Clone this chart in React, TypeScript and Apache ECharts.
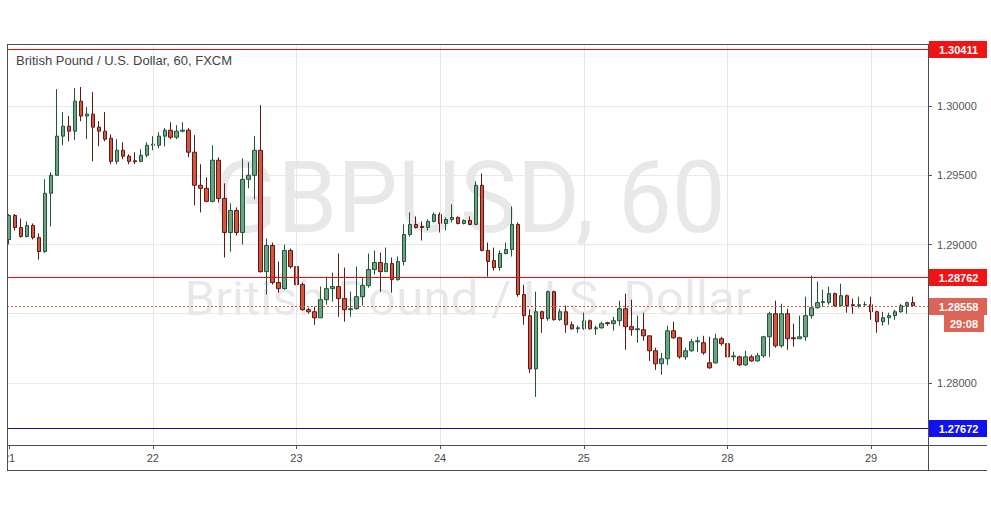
import React, { useEffect, useRef } from 'react';
import * as echarts from 'echarts';

const title = 'British Pound / U.S. Dollar, 60, FXCM';
const watermarkMain = 'GBPUSD, 60';
const watermarkSub = 'British Pound / U.S. Dollar';

const dayLabels = ['21', '22', '23', '24', '25', '28', '29'];
const dayStart = [0, 24, 48, 72, 96, 120, 144];
const extraSlots = 2;

const priceTickLabels = [1.28, 1.29, 1.295, 1.3];
const resistanceHigh = 1.30411;
const resistanceMid = 1.28762;
const supportLow = 1.27672;
const lastPrice = 1.28558;
const countdown = '29:08';

const opens = [
  1.29036, 1.29210, 1.29123, 1.29058, 1.29138, 1.29050, 1.28949, 1.29370, 1.29500, 1.29783,
  1.29855, 1.29819, 1.30036, 1.29928, 1.29942, 1.29848, 1.29819, 1.29768, 1.29601, 1.29681,
  1.29638, 1.29605, 1.29601, 1.29645, 1.29717, 1.29717, 1.29783, 1.29826, 1.29775, 1.29819,
  1.29826, 1.29667, 1.29428, 1.29406, 1.29312, 1.29609, 1.29333, 1.29087, 1.29246, 1.29087,
  1.29471, 1.29500, 1.29681, 1.28804, 1.28993, 1.28725, 1.28681, 1.28957, 1.28840, 1.28710,
  1.28529, 1.28514, 1.28470, 1.28601, 1.28681, 1.28696, 1.28609, 1.28529, 1.28536, 1.28623,
  1.28703, 1.28819, 1.28870, 1.28804, 1.28862, 1.28746, 1.28877, 1.29072, 1.29145, 1.29130,
  1.29123, 1.29167, 1.29217, 1.29152, 1.29181, 1.29196, 1.29152, 1.29174, 1.29145, 1.29428,
  1.28957, 1.28884, 1.28833, 1.28935, 1.28964, 1.29145, 1.28638, 1.28486, 1.28101, 1.28514,
  1.28464, 1.28659, 1.28457, 1.28514, 1.28420, 1.28391, 1.28391, 1.28449, 1.28391, 1.28398,
  1.28435, 1.28428, 1.28449, 1.28536, 1.28406, 1.28384, 1.28384, 1.28340, 1.28232, 1.28138,
  1.28174, 1.28377, 1.28326, 1.28188, 1.28232, 1.28297, 1.28290, 1.28145, 1.28145, 1.28319,
  1.28283, 1.28188, 1.28188, 1.28130, 1.28188, 1.28159, 1.28196, 1.28333, 1.28500, 1.28268,
  1.28500, 1.28326, 1.28319, 1.28333, 1.28486, 1.28543, 1.28580, 1.28580, 1.28645, 1.28558,
  1.28630, 1.28565, 1.28558, 1.28565, 1.28565, 1.28514, 1.28442, 1.28471, 1.28486, 1.28514,
  1.28558, 1.28580,
];

const closes = [
  1.29210, 1.29123, 1.29058, 1.29138, 1.29050, 1.28949, 1.29370, 1.29500, 1.29783, 1.29855,
  1.29819, 1.30036, 1.29928, 1.29942, 1.29848, 1.29819, 1.29761, 1.29601, 1.29681, 1.29638,
  1.29601, 1.29598, 1.29645, 1.29717, 1.29725, 1.29783, 1.29826, 1.29775, 1.29819, 1.29826,
  1.29667, 1.29428, 1.29406, 1.29312, 1.29609, 1.29333, 1.29087, 1.29246, 1.29087, 1.29471,
  1.29500, 1.29681, 1.28804, 1.28993, 1.28725, 1.28681, 1.28957, 1.28840, 1.28710, 1.28529,
  1.28514, 1.28470, 1.28601, 1.28681, 1.28696, 1.28609, 1.28529, 1.28536, 1.28623, 1.28703,
  1.28819, 1.28870, 1.28804, 1.28862, 1.28746, 1.28877, 1.29072, 1.29145, 1.29123, 1.29123,
  1.29167, 1.29217, 1.29152, 1.29181, 1.29196, 1.29152, 1.29174, 1.29145, 1.29428, 1.28957,
  1.28877, 1.28833, 1.28935, 1.28964, 1.29145, 1.28638, 1.28486, 1.28101, 1.28514, 1.28464,
  1.28659, 1.28457, 1.28514, 1.28420, 1.28391, 1.28398, 1.28449, 1.28391, 1.28398, 1.28428,
  1.28428, 1.28449, 1.28536, 1.28406, 1.28384, 1.28391, 1.28340, 1.28232, 1.28138, 1.28174,
  1.28377, 1.28326, 1.28188, 1.28232, 1.28297, 1.28304, 1.28217, 1.28109, 1.28319, 1.28283,
  1.28188, 1.28195, 1.28130, 1.28188, 1.28159, 1.28196, 1.28333, 1.28500, 1.28268, 1.28500,
  1.28319, 1.28319, 1.28333, 1.28486, 1.28543, 1.28580, 1.28587, 1.28645, 1.28558, 1.28630,
  1.28558, 1.28558, 1.28565, 1.28565, 1.28514, 1.28442, 1.28471, 1.28486, 1.28514, 1.28558,
  1.28580, 1.28558,
];

const lows = [
  1.29000, 1.29101, 1.29050, 1.29050, 1.29036, 1.28891, 1.28940, 1.29130, 1.29500, 1.29717,
  1.29746, 1.29754, 1.29891, 1.29761, 1.29601, 1.29710, 1.29746, 1.29580, 1.29580, 1.29616,
  1.29580, 1.29580, 1.29594, 1.29630, 1.29681, 1.29696, 1.29710, 1.29761, 1.29761, 1.29810,
  1.29630, 1.29283, 1.29232, 1.29304, 1.29304, 1.29304, 1.28906, 1.28949, 1.29065, 1.29000,
  1.29406, 1.29326, 1.28797, 1.28638, 1.28710, 1.28652, 1.28674, 1.28826, 1.28638, 1.28522,
  1.28500, 1.28420, 1.28470, 1.28565, 1.28587, 1.28478, 1.28442, 1.28478, 1.28529, 1.28558,
  1.28688, 1.28783, 1.28659, 1.28804, 1.28652, 1.28739, 1.28848, 1.29058, 1.29116, 1.29029,
  1.29101, 1.29159, 1.29087, 1.29101, 1.29159, 1.29145, 1.29145, 1.29138, 1.29138, 1.28950,
  1.28768, 1.28811, 1.28811, 1.28928, 1.28913, 1.28623, 1.28420, 1.28072, 1.27899, 1.28362,
  1.28449, 1.28449, 1.28449, 1.28362, 1.28384, 1.28362, 1.28384, 1.28384, 1.28348, 1.28391,
  1.28413, 1.28377, 1.28413, 1.28239, 1.28340, 1.28290, 1.28304, 1.28159, 1.28094, 1.28058,
  1.28130, 1.28319, 1.28174, 1.28167, 1.28225, 1.28225, 1.28203, 1.28101, 1.28138, 1.28268,
  1.28181, 1.28159, 1.28123, 1.28123, 1.28152, 1.28152, 1.28181, 1.28188, 1.28254, 1.28254,
  1.28239, 1.28261, 1.28319, 1.28304, 1.28464, 1.28536, 1.28551, 1.28565, 1.28551, 1.28551,
  1.28507, 1.28500, 1.28543, 1.28551, 1.28456, 1.28362, 1.28413, 1.28420, 1.28456, 1.28507,
  1.28500, 1.28551,
];

const highs = [
  1.29220, 1.29220, 1.29188, 1.29167, 1.29152, 1.29080, 1.29471, 1.29522, 1.30123, 1.29957,
  1.29928, 1.30130, 1.30138, 1.29993, 1.30101, 1.29891, 1.29957, 1.29797, 1.29761, 1.29739,
  1.29652, 1.29667, 1.29688, 1.29739, 1.29783, 1.29812, 1.29841, 1.29884, 1.29862, 1.29884,
  1.29841, 1.29790, 1.29580, 1.29486, 1.29717, 1.29630, 1.29442, 1.29297, 1.29268, 1.29623,
  1.29594, 1.29783, 1.30007, 1.29043, 1.29014, 1.28877, 1.29000, 1.28971, 1.28869, 1.28725,
  1.28543, 1.28551, 1.28696, 1.28768, 1.28797, 1.28935, 1.28833, 1.28659, 1.28841, 1.28761,
  1.28935, 1.28957, 1.28942, 1.28978, 1.28906, 1.28913, 1.29145, 1.29232, 1.29203, 1.29167,
  1.29181, 1.29232, 1.29232, 1.29196, 1.29290, 1.29203, 1.29181, 1.29203, 1.29457, 1.29514,
  1.29014, 1.28978, 1.28957, 1.29014, 1.29275, 1.29160, 1.28710, 1.28530, 1.28659, 1.28522,
  1.28667, 1.28667, 1.28536, 1.28558, 1.28442, 1.28413, 1.28507, 1.28457, 1.28413, 1.28442,
  1.28442, 1.28478, 1.28594, 1.28645, 1.28601, 1.28486, 1.28507, 1.28340, 1.28254, 1.28217,
  1.28413, 1.28442, 1.28333, 1.28254, 1.28319, 1.28333, 1.28340, 1.28333, 1.28355, 1.28333,
  1.28297, 1.28225, 1.28196, 1.28232, 1.28203, 1.28217, 1.28340, 1.28514, 1.28594, 1.28572,
  1.28536, 1.28428, 1.28486, 1.28623, 1.28775, 1.28732, 1.28674, 1.28696, 1.28652, 1.28717,
  1.28638, 1.28609, 1.28623, 1.28587, 1.28623, 1.28522, 1.28514, 1.28507, 1.28529, 1.28572,
  1.28587, 1.28623,
];

const W = 991;
const H = 507;
const PLOT_L = 7;
const PLOT_R = 928;
const PLOT_T = 44;
const PLOT_B = 445;
const FRAME_R = 987;
const FRAME_B = 470;

const FONT = '"Liberation Sans", Arial, sans-serif';

export default function App() {
  const ref = useRef<HTMLDivElement>(null);

  useEffect(() => {
    document.body.style.margin = '0';
    if (!ref.current) return;
    const chart = echarts.init(ref.current, undefined, { renderer: 'svg', width: W, height: H });

    const n = opens.length;
    const categories = Array.from({ length: n + extraSlots }, (_, i) => 'c' + i);
    const ohlc = opens.map((o, i) => [o, closes[i], lows[i], highs[i]]);
    const isDay = (i: number) => dayStart.indexOf(i) >= 0;
    const blank = categories.map(() => '-');

    const option: any = {
      animation: false,
      backgroundColor: '#ffffff',
      grid: { left: 4, right: W - PLOT_R, top: PLOT_T, bottom: H - PLOT_B, containLabel: false },
      xAxis: {
        type: 'category',
        data: categories,
        boundaryGap: true,
        axisLine: { show: false },
        axisTick: {
          show: true,
          alignWithLabel: true,
          interval: (i: number) => isDay(i),
          length: 4,
          lineStyle: { color: '#555555' },
        },
        axisLabel: {
          interval: (i: number) => isDay(i),
          formatter: (_v: string, i: number) => {
            const k = dayStart.indexOf(i);
            return k >= 0 ? dayLabels[k] : '';
          },
          color: '#4a4a4a',
          fontSize: 11,
          fontFamily: FONT,
          margin: 7,
        },
        splitLine: { show: false },
      },
      yAxis: {
        type: 'value',
        position: 'right',
        min: 1.27551,
        max: 1.30449,
        splitNumber: 5,
        axisLine: { show: false },
        axisTick: { show: true, length: 4, lineStyle: { color: '#555555' } },
        axisLabel: {
          showMinLabel: false,
          showMaxLabel: false,
          margin: 9,
          color: '#555555',
          fontSize: 11,
          fontFamily: FONT,
          formatter: (v: number) =>
            priceTickLabels.some((t) => Math.abs(t - v) < 1e-7) ? v.toFixed(5) : '',
        },
        splitLine: { show: true, lineStyle: { color: '#e9e9e9', width: 1 } },
      },
      series: [
        {
          type: 'line',
          data: blank,
          z: 1,
          silent: true,
          showSymbol: false,
          markLine: {
            silent: true,
            symbol: ['none', 'none'],
            label: { show: false },
            lineStyle: { color: '#e6e6e6', type: 'solid', width: 1 },
            emphasis: { disabled: true },
            data: dayStart.slice(1).map((i) => ({ xAxis: categories[i] })),
          },
        },
        {
          type: 'candlestick',
          data: ohlc,
          barWidth: 4,
          z: 3,
          itemStyle: {
            color: '#6ba583',
            color0: '#d75442',
            borderColor: '#225437',
            borderColor0: '#5b1a13',
            borderWidth: 1,
          },
        },
      ],
      graphic: [],
    };

    chart.setOption(option);

    const py = (v: number) => Math.round(chart.convertToPixel({ yAxisIndex: 0 }, v) as number);

    const level = (v: number, color: string, dash?: number[]) => {
      const y = py(v) + 0.5;
      return {
        type: 'line', z: 40, silent: true,
        shape: { x1: PLOT_L, y1: y, x2: PLOT_R, y2: y },
        style: { stroke: color, lineWidth: 1, lineDash: dash || null },
      };
    };

    const box = (v: number, text: string, color: string) => {
      const y = py(v);
      return [
        { type: 'rect', z: 60, shape: { x: PLOT_R + 1, y: y - 8, width: FRAME_R - PLOT_R - 1, height: 17 }, style: { fill: color } },
        {
          type: 'text', z: 61, x: (PLOT_R + FRAME_R) / 2 + 1, y: y + 0.5,
          style: { text, fill: '#ffffff', font: 'bold 11px ' + FONT, align: 'center', verticalAlign: 'middle' },
        },
      ];
    };
    const yLast = py(lastPrice);

    const frameColor = '#4d4d4d';
    const hline = (x1: number, x2: number, y: number) => ({
      type: 'line', z: 50, shape: { x1, y1: y + 0.5, x2, y2: y + 0.5 }, style: { stroke: frameColor, lineWidth: 1 },
    });
    const vline = (x: number, y1: number, y2: number) => ({
      type: 'line', z: 50, shape: { x1: x + 0.5, y1, x2: x + 0.5, y2 }, style: { stroke: frameColor, lineWidth: 1 },
    });

    const graphic: any[] = [
      {
        type: 'text', z: 0, x: 469, y: 198, scaleX: 0.95,
        style: { text: watermarkMain, fill: 'rgba(0,0,0,0.09)', font: '101px Roboto, sans-serif', align: 'center', verticalAlign: 'middle' },
      },
      {
        type: 'text', z: 0, x: 468, y: 299, scaleX: 1.03,
        style: { text: watermarkSub, fill: 'rgba(0,0,0,0.09)', font: '48px Roboto, sans-serif', align: 'center', verticalAlign: 'middle' },
      },
      level(resistanceHigh, '#e01010'),
      level(resistanceMid, '#e01010'),
      level(supportLow, '#10108a'),
      level(lastPrice, '#e0503f', [2, 2]),
      { type: 'rect', z: 45, shape: { x: 0, y: 0, width: PLOT_L, height: H }, style: { fill: '#ffffff' } },
      {
        type: 'text', z: 55, x: 16, y: 60,
        style: { text: title, fill: '#434343', font: '13px ' + FONT, align: 'left', verticalAlign: 'middle' },
      },
      hline(PLOT_L, FRAME_R, PLOT_T),
      hline(PLOT_L, FRAME_R, PLOT_B),
      hline(PLOT_L, FRAME_R, FRAME_B),
      vline(PLOT_L, PLOT_T, FRAME_B),
      vline(PLOT_R, PLOT_T, FRAME_B),
      ...box(resistanceHigh, resistanceHigh.toFixed(5), '#f01414'),
      ...box(resistanceMid, resistanceMid.toFixed(5), '#f01414'),
      ...box(supportLow, supportLow.toFixed(5), '#1010f0'),
      ...box(lastPrice, lastPrice.toFixed(5), '#dc6456'),
      { type: 'rect', z: 60, shape: { x: 944, y: yLast + 9, width: 40, height: 17 }, style: { fill: '#dc6456' } },
      {
        type: 'text', z: 61, x: 964, y: yLast + 17.5,
        style: { text: countdown, fill: '#ffffff', font: 'bold 11px ' + FONT, align: 'center', verticalAlign: 'middle' },
      },
    ];

    chart.setOption({ graphic });

    return () => chart.dispose();
  }, []);

  return <div ref={ref} style={{ width: W, height: H }} />;
}
